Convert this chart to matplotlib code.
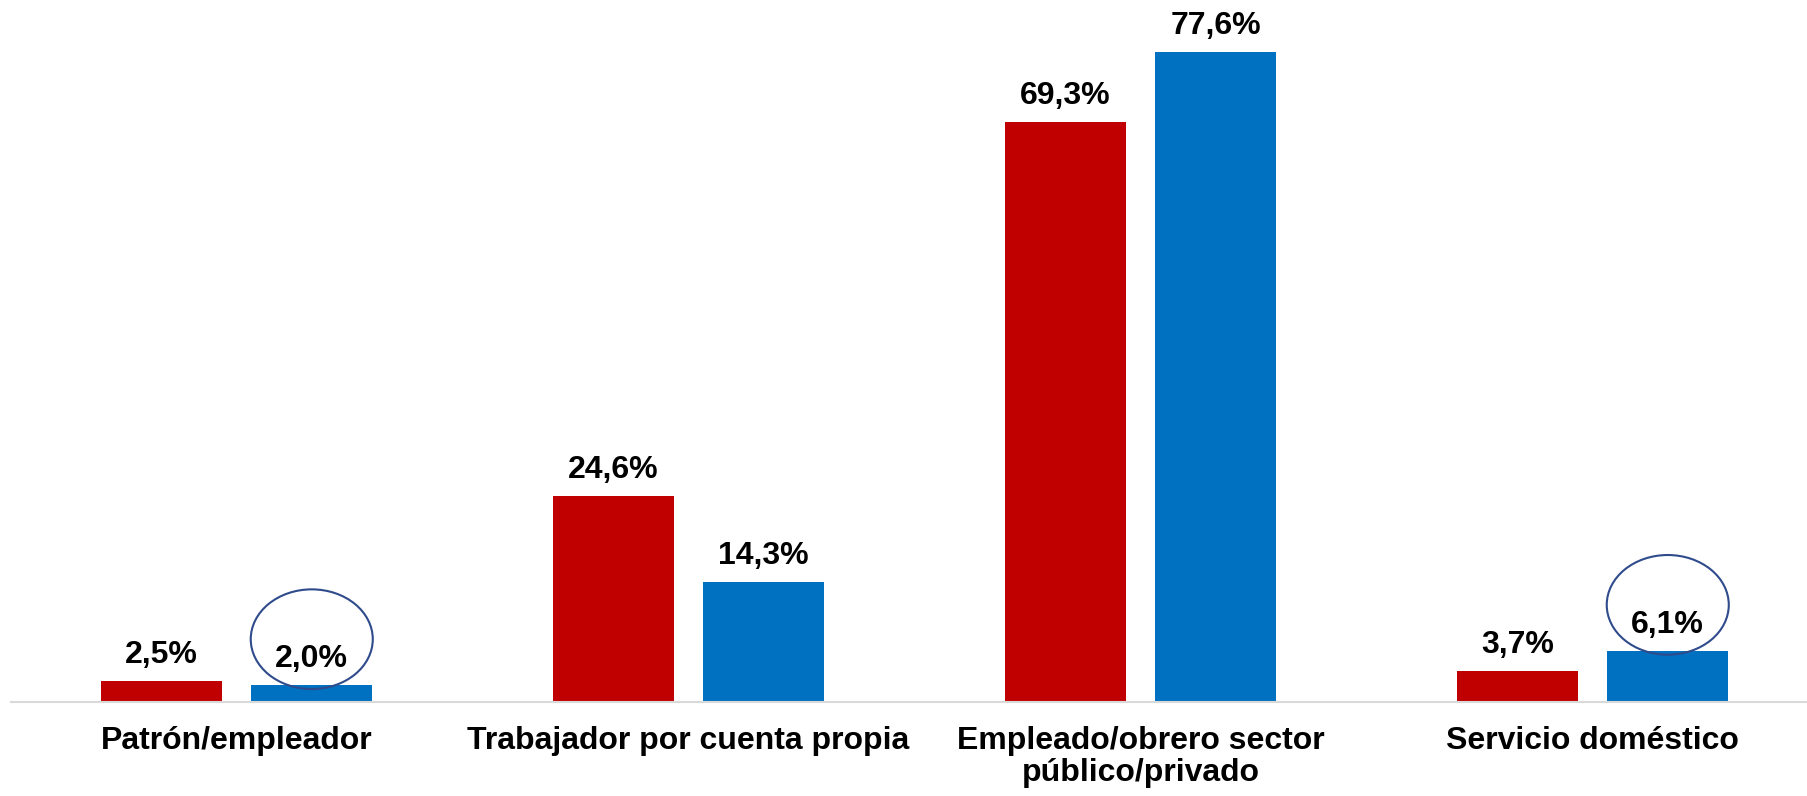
import numpy as np
import matplotlib.pyplot as plt
from matplotlib.patches import Ellipse

plt.rcParams['font.family'] = ['Liberation Sans', 'DejaVu Sans']

categorias = ['Patrón/empleador', 'Trabajador por cuenta propia',
              'Empleado/obrero sector\npúblico/privado', 'Servicio doméstico']
serie_roja = [2.5, 24.6, 69.3, 3.7]
serie_azul = [2.0, 14.3, 77.6, 6.1]
resaltados = [0, 3]  # categorias con circulo sobre la barra azul

W, H = 1807, 796
fig = plt.figure(figsize=(W / 100, H / 100), dpi=100)
# eje: linea base en y=702 px, 452 px por categoria
ax = fig.add_axes([10.5 / W, (H - 702) / H, 1808 / W, 670 / H])

x = np.arange(len(categorias))
ancho = 0.268
desp = 0.1665

b1 = ax.bar(x - desp, serie_roja, ancho, color='#C00000')
b2 = ax.bar(x + desp, serie_azul, ancho, color='#0070C0')

for barras, vals in [(b1, serie_roja), (b2, serie_azul)]:
    for rect, v in zip(barras, vals):
        ax.annotate(f'{v:.1f}%'.replace('.', ','),
                    (rect.get_x() + rect.get_width() / 2, v),
                    xytext=(0, 13), textcoords='offset points',
                    ha='center', va='baseline', fontsize=23, fontweight='bold')

for i in resaltados:
    ax.add_patch(Ellipse((x[i] + desp, serie_azul[i] + 5.5), 0.27, 11.9,
                         fill=False, edgecolor='#2F4B8C', linewidth=1.5,
                         clip_on=False))

ax.set_xlim(-0.5, 3.5)
ax.set_ylim(0, 80)
ax.set_xticks(x)
ax.set_xticklabels(categorias, fontsize=23, fontweight='bold', linespacing=1.1)
ax.tick_params(axis='x', length=0, pad=17)
ax.set_yticks([])
for s in ['top', 'right', 'left']:
    ax.spines[s].set_visible(False)
ax.spines['bottom'].set_color('#D9D9D9')
ax.spines['bottom'].set_linewidth(1.5)

fig.savefig('out.png', dpi=100)
